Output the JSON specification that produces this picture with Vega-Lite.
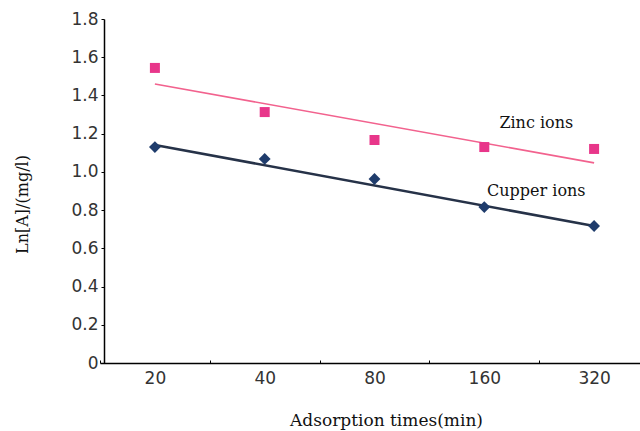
{
  "$schema": "https://vega.github.io/schema/vega-lite/v6.json",
  "width": 536,
  "height": 344,
  "autosize": {"type": "none"},
  "padding": {"left": 104, "top": 19, "right": 0, "bottom": 68},
  "background": "white",
  "config": {"view": {"stroke": null}},
  "datasets": {
    "points": [
      {"time": "20", "series": "Zinc ions", "value": 1.544},
      {"time": "40", "series": "Zinc ions", "value": 1.313},
      {"time": "80", "series": "Zinc ions", "value": 1.167},
      {"time": "160", "series": "Zinc ions", "value": 1.13},
      {"time": "320", "series": "Zinc ions", "value": 1.12},
      {"time": "20", "series": "Cupper ions", "value": 1.13},
      {"time": "40", "series": "Cupper ions", "value": 1.068},
      {"time": "80", "series": "Cupper ions", "value": 0.963},
      {"time": "160", "series": "Cupper ions", "value": 0.816},
      {"time": "320", "series": "Cupper ions", "value": 0.717}
    ],
    "fits": [
      {"time": "20", "series": "Zinc ions", "value": 1.46},
      {"time": "320", "series": "Zinc ions", "value": 1.047},
      {"time": "20", "series": "Cupper ions", "value": 1.141},
      {"time": "320", "series": "Cupper ions", "value": 0.717}
    ],
    "labels": [
      {"time": "160", "series": "Zinc ions", "value": 1.256},
      {"time": "160", "series": "Cupper ions", "value": 0.9}
    ]
  },
  "encoding": {
    "x": {
      "field": "time",
      "type": "ordinal",
      "sort": ["20", "40", "80", "160", "320"],
      "scale": {"type": "band", "domain": ["20", "40", "80", "160", "320"], "range": [-4, 545], "paddingInner": 0, "paddingOuter": 0},
      "axis": {
        "title": "Adsorption times(min)",
        "titleFont": "DejaVu Serif",
        "titleFontSize": 17,
        "titleFontWeight": "normal",
        "titleColor": "#111",
        "titleX": 282,
        "titleY": 62,
        "titleAlign": "center",
        "titleBaseline": "alphabetic",
        "labelAngle": 0,
        "labelFont": "DejaVu Sans",
        "labelFontSize": 17,
        "labelColor": "#333",
        "labelPadding": 10,
        "tickBand": "extent",
        "tickSize": -3,
        "tickColor": "#000",
        "tickWidth": 1,
        "domainColor": "#000",
        "domainWidth": 1.5,
        "grid": false
      }
    },
    "y": {
      "field": "value",
      "type": "quantitative",
      "scale": {"domain": [0, 1.8], "nice": false, "zero": true},
      "axis": {
        "title": "Ln[A]/(mg/l)",
        "titleFont": "DejaVu Serif",
        "titleFontSize": 16,
        "titleFontWeight": "normal",
        "titleColor": "#111",
        "titleAngle": -90,
        "titleX": -82,
        "titleY": 185,
        "titleAlign": "center",
        "titleBaseline": "middle",
        "values": [0, 0.2, 0.4, 0.6, 0.8, 1.0, 1.2, 1.4, 1.6, 1.8],
        "labelExpr": "datum.value == 0 ? '0' : format(datum.value, '.1f')",
        "labelFont": "DejaVu Sans",
        "labelFontSize": 17,
        "labelColor": "#333",
        "labelPadding": 3,
        "tickSize": 3,
        "tickColor": "#000",
        "domainColor": "#000",
        "domainWidth": 1.5,
        "grid": false
      }
    }
  },
  "layer": [
    {
      "data": {"name": "fits"},
      "transform": [{"filter": "datum.series == 'Zinc ions'"}],
      "mark": {"type": "line", "strokeWidth": 1.6, "color": "#f2628e"},
      "encoding": {}
    },
    {
      "data": {"name": "fits"},
      "transform": [{"filter": "datum.series == 'Cupper ions'"}],
      "mark": {"type": "line", "strokeWidth": 2.6, "color": "#263248"},
      "encoding": {}
    },
    {
      "data": {"name": "points"},
      "mark": {"type": "point", "filled": true, "opacity": 1},
      "encoding": {
        "shape": {"field": "series", "type": "nominal", "scale": {"domain": ["Zinc ions", "Cupper ions"], "range": ["square", "diamond"]}, "legend": null},
        "size": {"field": "series", "type": "nominal", "scale": {"domain": ["Zinc ions", "Cupper ions"], "range": [100, 140]}, "legend": null},
        "color": {"field": "series", "type": "nominal", "scale": {"domain": ["Zinc ions", "Cupper ions"], "range": ["#e8368a", "#1f3c6c"]}, "legend": null}
      }
    },
    {
      "data": {"name": "labels"},
      "mark": {"type": "text", "font": "DejaVu Serif", "fontSize": 16, "color": "#111", "dx": 52, "align": "center", "baseline": "middle"},
      "encoding": {"text": {"field": "series"}}
    }
  ]
}
